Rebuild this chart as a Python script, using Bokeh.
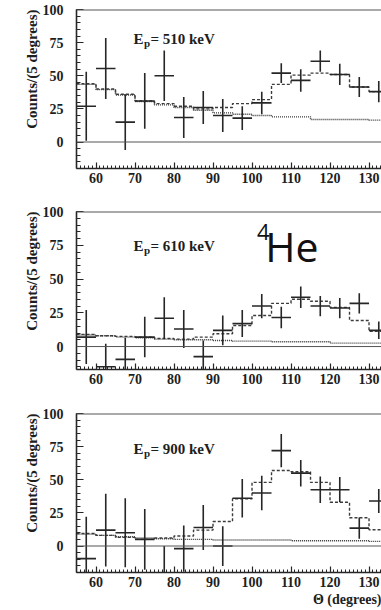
from bokeh.plotting import figure
from bokeh.layouts import column
from bokeh.models import FixedTicker, Span, Label, Title, Range1d
from bokeh.embed import file_html
from bokeh.resources import INLINE

# ---- data ----
bin_edges = [55, 60, 65, 70, 75, 80, 85, 90, 95, 100, 105, 110, 115, 120, 125, 130, 135]
bin_centers = [57.5, 62.5, 67.5, 72.5, 77.5, 82.5, 87.5, 92.5, 97.5, 102.5, 107.5, 112.5, 117.5, 122.5, 127.5, 132.5]

counts_510 = [27, 55.5, 15, 31, 50, 18.5, 26, 20, 18, 29.5, 52, 46.5, 61, 51, 41.5, 38]
err_510 = [26, 23, 21, 21, 19, 15.5, 12.5, 12.5, 9, 8.5, 7.5, 8.5, 8, 8, 7.5, 8]
total_510 = [44, 40, 36, 31, 29, 27, 25, 26, 29, 32, 43.5, 50.5, 52, 51, 41.5, 38]
bkg_510 = [43.5, 39.5, 35.5, 30.5, 28, 26, 24, 22, 21, 20, 19, 19, 17, 17, 17, 16.5]

counts_610 = [7, -15, -9.5, 7, 21, 13, -7.5, 12, 17, 30, 21.5, 36.5, 30, 28.5, 32, 12]
err_610 = [20, 17, 16, 15, 15.5, 14, 12, 11, 10, 9, 8, 8, 7.5, 7.5, 7.5, 6.5]
total_610 = [9, 8, 7.5, 7, 6, 5.5, 7, 9.5, 15.5, 23, 32, 35, 33.5, 29, 19.3, 11.2]
bkg_610 = [8.5, 8, 7, 6.5, 5.5, 5, 5, 4.5, 4, 4, 3.5, 3.5, 3.5, 2.5, 2.5, 2.5]

counts_900 = [-9.5, 12, 10, 5, -28, -2, 14, 0, 36, 40, 72, 55, 42.5, 42.5, 13.5, 34]
err_900 = [31.5, 27.5, 26, 23, 28, 17.5, 17, 15, 14.5, 13, 12.5, 10, 10, 9.5, 8, 9]
total_900 = [9.4, 8, 6.5, 5, 6, 7.5, 12, 18.5, 35.6, 48, 57, 56, 48, 33, 21.3, 12.3]
bkg_900 = [9, 8, 7, 6, 5.5, 5, 5, 4.5, 4.5, 4.5, 4.5, 4, 4, 4, 4, 3.5]

energies = ["510", "610", "900"]
y_ticks = [0, 25, 50, 75, 100]
x_ticks = [60, 70, 80, 90, 100, 110, 120, 130]

SERIF = "Liberation Serif"
INK = "#262626"


def panel(counts, errs, total, bkg, energy, y_start, height, border_bottom, label_y):
    p = figure(width=381, height=height, output_backend="svg", toolbar_location=None,
               x_range=Range1d(55, 133.2), y_range=Range1d(y_start, 100),
               min_border_left=76, min_border_right=0, min_border_top=9,
               min_border_bottom=border_bottom)
    p.outline_line_color = None
    p.background_fill_color = "white"
    p.border_fill_color = "white"
    p.xgrid.visible = False
    p.ygrid.visible = False

    # axes (ticks inside, ROOT style)
    p.xaxis.ticker = FixedTicker(ticks=x_ticks, minor_ticks=list(range(55, 136)))
    p.yaxis.ticker = FixedTicker(ticks=y_ticks, minor_ticks=list(range(-20, 101, 5)))
    for ax in (p.xaxis[0], p.yaxis[0]):
        ax.major_tick_out = 0
        ax.minor_tick_out = 0
        ax.axis_line_color = INK
        ax.axis_line_width = 1.6
        ax.major_tick_line_color = INK
        ax.minor_tick_line_color = INK
        ax.major_tick_line_width = 1.2
        ax.minor_tick_line_width = 1
        ax.major_label_text_font = SERIF
        ax.major_label_text_font_style = "bold"
        ax.major_label_text_color = "#1e1e1e"
        ax.major_label_text_font_size = "14px"
    p.xaxis.major_tick_in = 6
    p.xaxis.minor_tick_in = 3
    p.xaxis.major_label_standoff = 4
    p.yaxis.major_tick_in = 7
    p.yaxis.minor_tick_in = 4
    p.yaxis.major_label_standoff = 13

    # top frame line
    p.add_layout(Span(location=100, dimension="width", line_color="#555555", line_width=2))
    # zero line
    p.add_layout(Span(location=0, dimension="width", line_color="#555555", line_width=1))

    # y label, top aligned
    p.add_layout(Title(text="Counts/(5 degrees)", align="right", text_font=SERIF,
                       text_font_style="bold", text_font_size="15px", standoff=0,
                       text_color="#1e1e1e"), "left")

    # histograms (step)
    tot = list(total) + [total[-1]]
    bk = list(bkg) + [bkg[-1]]
    p.step(bin_edges, bk, mode="after", line_color="#333333", line_width=1.4, line_dash="1 1")
    p.step(bin_edges, tot, mode="after", line_color="#3c3c3c", line_width=1.4, line_dash="3 2")

    # data crosses
    lo = [c - e for c, e in zip(counts, errs)]
    hi = [c + e for c, e in zip(counts, errs)]
    left = [x - 2.5 for x in bin_centers]
    right = [x + 2.5 for x in bin_centers]
    p.segment(bin_centers, lo, bin_centers, hi, line_color=INK, line_width=1.6)
    p.segment(left, counts, right, counts, line_color=INK, line_width=1.6)

    # E_p label
    p.add_layout(Label(x=69.6, y=label_y, text="E", text_font=SERIF, text_font_style="bold",
                       text_font_size="15px", text_color="#1e1e1e", text_baseline="alphabetic"))
    p.add_layout(Label(x=69.6, y=label_y, x_offset=10.5, y_offset=-4, text="p", text_font=SERIF,
                       text_font_style="bold", text_font_size="11px", text_color="#1e1e1e",
                       text_baseline="alphabetic"))
    p.add_layout(Label(x=69.6, y=label_y, x_offset=17, text="= %s keV" % energy, text_font=SERIF,
                       text_font_style="bold", text_font_size="15px", text_color="#1e1e1e",
                       text_baseline="alphabetic"))
    return p


p1 = panel(counts_510, err_510, total_510, bkg_510, energies[0], -20, 202, 34, 78)
p2 = panel(counts_610, err_610, total_610, bkg_610, energies[1], -17, 202, 35, 74.5)
p3 = panel(counts_900, err_900, total_900, bkg_900, energies[2], -20, 206, 38, 73.5)

# 4He annotation
p2.add_layout(Label(x=103.4, y=74.5, text="He", text_font="Open Sans", text_font_size="41px",
                    text_color="#111111", text_baseline="alphabetic"))
p2.add_layout(Label(x=101.3, y=85, text="4", text_font="Open Sans", text_font_size="22px",
                    text_color="#111111", text_baseline="alphabetic"))

# x-axis title, right-aligned at the frame end
p3.add_layout(Title(text="\u0398 (degrees)", align="right", text_font=SERIF,
                    text_font_style="bold", text_font_size="14px", standoff=0,
                    text_color="#1e1e1e"), "below")

layout = column(p1, p2, p3, spacing=0)
open("out.html", "w").write(file_html(layout, INLINE))
